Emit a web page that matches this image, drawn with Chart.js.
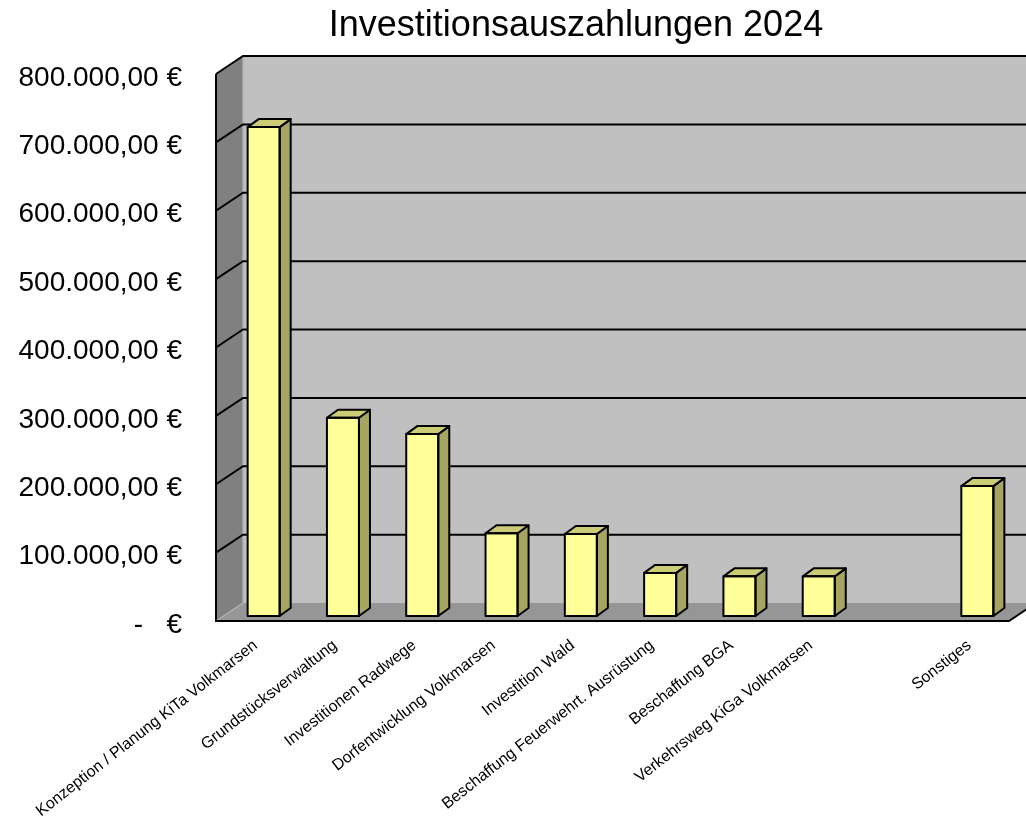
<!DOCTYPE html>
<html><head><meta charset="utf-8">
<script src="https://cdn.jsdelivr.net/npm/chart.js@4/dist/chart.umd.min.js"></script>
<style>html,body{margin:0;padding:0;background:#fff;}#wrap{width:1026px;height:821px;}</style>
</head><body><div id="wrap"><canvas id="c" width="1026" height="821"></canvas></div>
<script>
const titleText = "Investitionsauszahlungen 2024";
const categories = ["Konzeption / Planung KiTa Volkmarsen", "Grundstücksverwaltung", "Investitionen Radwege", "Dorfentwicklung Volkmarsen", "Investition Wald", "Beschaffung Feuerwehrt. Ausrüstung", "Beschaffung BGA", "Verkehrsweg KiGa Volkmarsen", "", "Sonstiges"];
const values = [715000, 290000, 266000, 121000, 120000, 63000, 58000, 58000, null, 190000];
const yMax = 800000;
const yStep = 100000;

function fmtEuro(v){
  if (v === 0) return "-   €";
  return v.toLocaleString('de-DE',{minimumFractionDigits:2, maximumFractionDigits:2}) + " €";
}

const WALL_DX = 27, WALL_DY = -18;
const BAR_SHIFT_X = 8, BAR_SHIFT_Y = -5;
const BAR_DX = 11, BAR_DY = -8;

const wallsPlugin = {
  id: 'walls',
  beforeDatasetsDraw(chart){
    const ctx = chart.ctx, a = chart.chartArea, y = chart.scales.y;
    const L=a.left, R=a.right, T=a.top, B=a.bottom;
    ctx.save();
    ctx.fillStyle = '#C0C0C0';
    ctx.fillRect(L+WALL_DX, T+WALL_DY, R-L, B-T);
    ctx.fillStyle = '#808080';
    ctx.beginPath();
    ctx.moveTo(L, T); ctx.lineTo(L+WALL_DX, T+WALL_DY); ctx.lineTo(L+WALL_DX, B+WALL_DY); ctx.lineTo(L, B); ctx.closePath();
    ctx.fill();
    ctx.fillStyle = '#969696';
    ctx.beginPath();
    ctx.moveTo(L, B); ctx.lineTo(L+WALL_DX, B+WALL_DY); ctx.lineTo(R+WALL_DX, B+WALL_DY); ctx.lineTo(R, B); ctx.closePath();
    ctx.fill();
    ctx.strokeStyle = '#B0B0B0'; ctx.lineWidth = 1.5;
    ctx.beginPath();
    ctx.moveTo(L+WALL_DX, T+WALL_DY); ctx.lineTo(L+WALL_DX, B+WALL_DY);
    ctx.moveTo(L, B); ctx.lineTo(L+WALL_DX, B+WALL_DY);
    ctx.stroke();
    ctx.strokeStyle = '#000'; ctx.lineWidth = 2;
    for (let v = yStep; v <= yMax; v += yStep){
      const py = y.getPixelForValue(v);
      ctx.beginPath();
      ctx.moveTo(L, py); ctx.lineTo(L+WALL_DX, py+WALL_DY); ctx.lineTo(R+WALL_DX, py+WALL_DY);
      ctx.stroke();
    }
    ctx.lineWidth = 2;
    ctx.beginPath();
    ctx.moveTo(L, T); ctx.lineTo(L, B); ctx.lineTo(R, B); ctx.lineTo(R+WALL_DX, B+WALL_DY);
    ctx.stroke();
    ctx.restore();
    ctx.save();
    ctx.translate(BAR_SHIFT_X, BAR_SHIFT_Y);
  },
  afterDatasetsDraw(chart){
    const ctx = chart.ctx;
    const meta = chart.getDatasetMeta(0);
    meta.data.forEach((el, i) => {
      if (values[i] === null || values[i] === undefined) return;
      const p = el.getProps(['x','y','base','width'], true);
      const l = p.x - p.width/2, r = p.x + p.width/2, t = p.y, b = p.base;
      ctx.lineWidth = 2; ctx.strokeStyle = '#000'; ctx.lineJoin = 'round';
      ctx.fillStyle = '#A6A662';
      ctx.beginPath();
      ctx.moveTo(r, t); ctx.lineTo(r+BAR_DX, t+BAR_DY); ctx.lineTo(r+BAR_DX, b+BAR_DY); ctx.lineTo(r, b); ctx.closePath();
      ctx.fill(); ctx.stroke();
      ctx.fillStyle = '#CCCC77';
      ctx.beginPath();
      ctx.moveTo(l, t); ctx.lineTo(l+BAR_DX, t+BAR_DY); ctx.lineTo(r+BAR_DX, t+BAR_DY); ctx.lineTo(r, t); ctx.closePath();
      ctx.fill(); ctx.stroke();
      ctx.strokeRect(l, t, r-l, b-t);
    });
    ctx.restore();
  },
  afterDraw(chart){
    const ctx = chart.ctx;
    ctx.save();
    ctx.fillStyle = '#000';
    ctx.font = '36px "Liberation Sans", Arial, sans-serif';
    ctx.textAlign = 'center'; ctx.textBaseline = 'middle';
    ctx.fillText(titleText, 576, 26);
    ctx.restore();
  }
};

new Chart(document.getElementById('c'), {
  type: 'bar',
  data: {
    labels: categories,
    datasets: [{
      data: values,
      backgroundColor: '#FFFF99',
      borderColor: '#000',
      borderWidth: 0,
      barPercentage: 0.404,
      categoryPercentage: 1.0
    }]
  },
  options: {
    responsive: false,
    animation: false,
    layout: { padding: { top: 74, right: 17, bottom: 0, left: 0 } },
    plugins: { legend: { display: false }, title: { display: false }, tooltip: { enabled: false } },
    scales: {
      x: {
        grid: { display: false, drawTicks: false },
        border: { display: false },
        ticks: {
          autoSkip: false, minRotation: 38, maxRotation: 38, padding: 15,
          color: '#000',
          font: { family: '"Liberation Sans", Arial, sans-serif', size: 16 }
        },
        afterFit(s){ s.height = 200; }
      },
      y: {
        min: 0, max: yMax,
        grid: { display: false, drawTicks: false },
        border: { display: false },
        ticks: {
          stepSize: yStep, padding: 34, color: '#000', labelOffset: 4,
          font: { family: '"Liberation Sans", Arial, sans-serif', size: 28 },
          callback: (v) => fmtEuro(v)
        },
        afterFit(s){ s.width = 216; }
      }
    }
  },
  plugins: [wallsPlugin]
});
</script>
</body></html>
